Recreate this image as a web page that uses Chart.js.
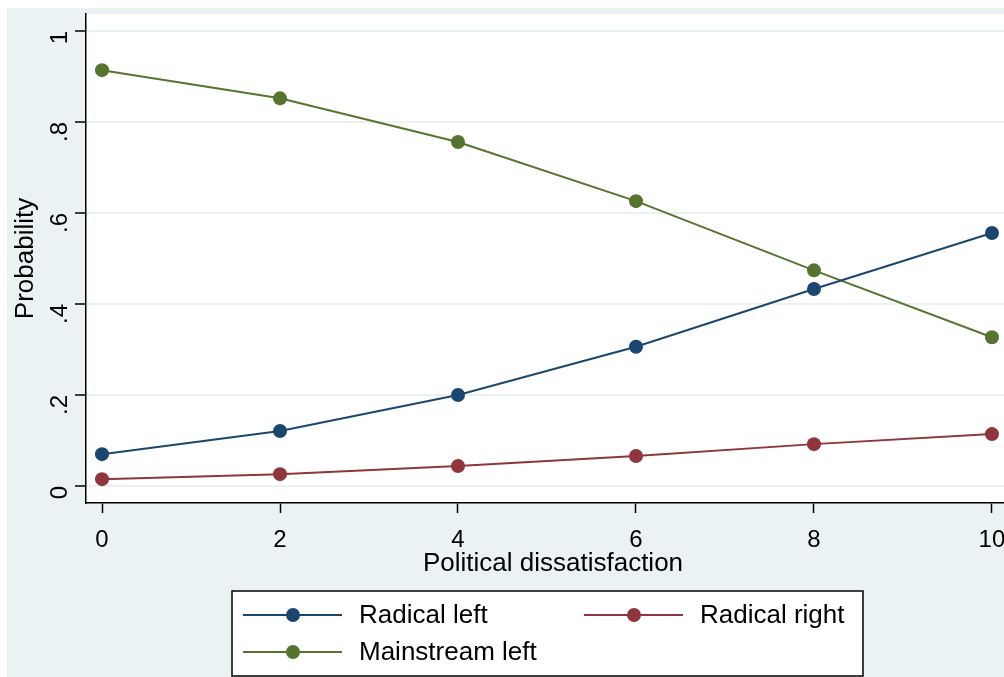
<!DOCTYPE html>
<html>
<head>
<meta charset="utf-8">
<script src="https://cdn.jsdelivr.net/npm/chart.js@4"></script>
<style>
  html, body { margin: 0; padding: 0; background: #fff; overflow: hidden; }
  #wrap { width: 1030px; height: 677px; position: relative; }
</style>
</head>
<body>
<div id="wrap"><canvas id="chart"></canvas></div>
<script>
// data
const dissatisfaction = [0, 2, 4, 6, 8, 10];
const radicalLeft = [0.070, 0.121, 0.200, 0.306, 0.433, 0.556];
const radicalRight = [0.015, 0.026, 0.044, 0.066, 0.092, 0.114];
const mainstreamLeft = [0.914, 0.852, 0.756, 0.626, 0.474, 0.327];

const xTicks = [0, 2, 4, 6, 8, 10];
const yTicks = [0, 0.2, 0.4, 0.6, 0.8, 1];

const bgColor = "#EAF2F3";
const font = "'Liberation Sans', Arial, sans-serif";

function toPoints(ys) {
  return dissatisfaction.map((x, i) => ({ x: x, y: ys[i] }));
}

function series(label, ys, color) {
  return {
    label: label,
    data: toPoints(ys),
    borderColor: color,
    backgroundColor: color,
    borderWidth: 2,
    pointRadius: 7,
    pointHoverRadius: 7,
    pointBorderWidth: 0,
    tension: 0,
  };
}

const background = {
  id: "background",
  beforeDraw(chart) {
    const ctx = chart.ctx;
    const a = chart.chartArea;
    ctx.save();
    ctx.fillStyle = "#fff";
    ctx.fillRect(0, 0, chart.width, chart.height);
    ctx.fillStyle = bgColor;
    ctx.fillRect(7, 8, chart.width - 7, chart.height - 8);
    ctx.fillStyle = "#fff";
    ctx.fillRect(a.left, a.top, a.right - a.left, a.bottom - a.top);
    ctx.restore();
  },
};

// Stata style legend box below the plot
const boxLegend = {
  id: "boxLegend",
  afterDraw(chart) {
    const ctx = chart.ctx;
    const slots = [
      { line: 243, text: 359, y: 615 },
      { line: 584, text: 700, y: 615 },
      { line: 243, text: 359, y: 652 },
    ];
    ctx.save();
    ctx.fillStyle = "#fff";
    ctx.fillRect(232, 591, 631, 85);
    ctx.strokeStyle = "#000";
    ctx.lineWidth = 1.5;
    ctx.strokeRect(232, 591, 631, 85);
    chart.data.datasets.forEach((ds, i) => {
      const s = slots[i];
      ctx.strokeStyle = ds.borderColor;
      ctx.lineWidth = 2;
      ctx.beginPath();
      ctx.moveTo(s.line, s.y);
      ctx.lineTo(s.line + 99, s.y);
      ctx.stroke();
      ctx.fillStyle = ds.backgroundColor;
      ctx.beginPath();
      ctx.arc(s.line + 50, s.y, 7, 0, Math.PI * 2);
      ctx.fill();
      ctx.fillStyle = "#000";
      ctx.font = "26px " + font;
      ctx.textBaseline = "middle";
      ctx.fillText(ds.label, s.text, s.y + 1);
    });
    ctx.restore();
  },
};

function noOverflow(scale) {
  scale.paddingTop = 0;
  scale.paddingBottom = 0;
  scale.paddingLeft = 0;
  scale.paddingRight = 0;
}

new Chart(document.getElementById("chart"), {
  type: "line",
  data: {
    datasets: [
      series("Radical left", radicalLeft, "#1A476F"),
      series("Radical right", radicalRight, "#90353B"),
      series("Mainstream left", mainstreamLeft, "#55752F"),
    ],
  },
  options: {
    responsive: true,
    maintainAspectRatio: false,
    animation: false,
    events: [],
    layout: { padding: { left: 0, top: 14, right: 10, bottom: 94 } },
    plugins: {
      legend: { display: false },
      tooltip: { enabled: false },
    },
    scales: {
      x: {
        type: "linear",
        min: -0.18,
        max: 10.315,
        afterBuildTicks(scale) {
          scale.ticks = xTicks.map((v) => ({ value: v }));
        },
        afterFit(scale) {
          scale.height = 80;
          noOverflow(scale);
        },
        grid: {
          color: "rgba(0,0,0,0)",
          tickColor: "#000",
          tickLength: 10,
          tickWidth: 1.5,
        },
        border: { display: true, color: "#000", width: 1.5 },
        ticks: {
          color: "#000",
          font: { family: font, size: 24 },
          padding: 13,
          maxRotation: 0,
          minRotation: 0,
        },
        title: {
          display: true,
          text: "Political dissatisfaction",
          color: "#000",
          font: { family: font, size: 26 },
          padding: { top: 0, bottom: 4 },
        },
      },
      y: {
        min: -0.0374,
        max: 1.0374,
        afterBuildTicks(scale) {
          scale.ticks = yTicks.map((v) => ({ value: v }));
        },
        afterFit(scale) {
          scale.width = 86;
          noOverflow(scale);
        },
        grid: {
          color: bgColor,
          lineWidth: 2,
          tickColor: "#000",
          tickLength: 11,
          tickWidth: 1.5,
        },
        border: { display: true, color: "#000", width: 1.5 },
        ticks: {
          color: "#000",
          font: { family: font, size: 24 },
          minRotation: 90,
          maxRotation: 90,
          padding: 15,
          callback: (v) => (v === 0 ? "0" : v === 1 ? "1" : String(v).replace(/^0/, "")),
        },
        title: {
          display: true,
          text: "Probability",
          color: "#000",
          font: { family: font, size: 26 },
          padding: { top: 10, bottom: 0 },
        },
      },
    },
  },
  plugins: [background, boxLegend],
});
</script>
</body>
</html>
